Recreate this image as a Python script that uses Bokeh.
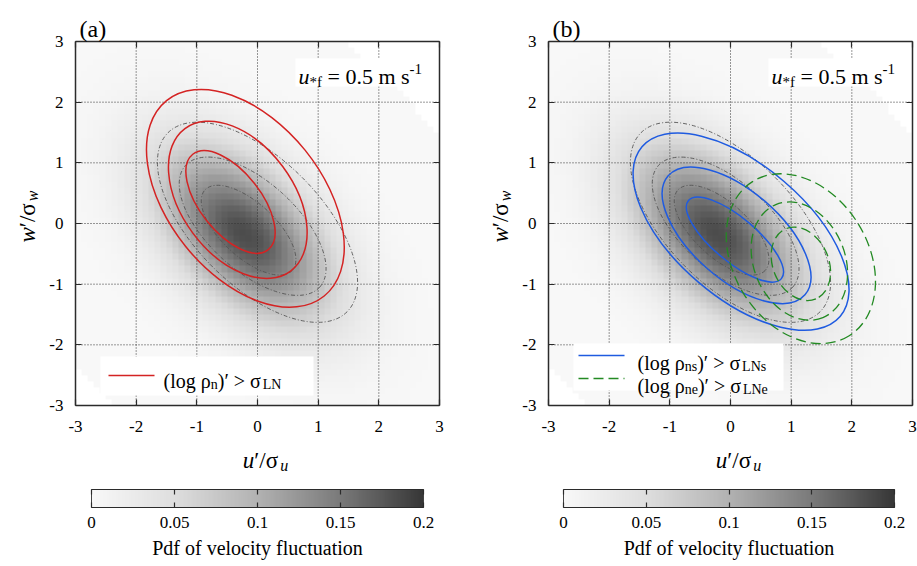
import numpy as np
from bokeh.plotting import figure
from bokeh.models import (ColumnDataSource, LinearColorMapper, FixedTicker, LinearAxis,
                          Label, BoxAnnotation, Arrow, Range1d, CustomJSTickFormatter)
from bokeh.layouts import row
from bokeh.embed import file_html
from bokeh.resources import INLINE

# ------------------------------------------------------------------ data
AXIS_TICKS = [-3, -2, -1, 0, 1, 2, 3]
AXIS_TICK_LABELS = ["-3", "-2", "-1", "0", "1", "2", "3"]
GRID_TICKS = [-2, -1, 0, 1, 2]
CBAR_TICKS = [0, 0.05, 0.1, 0.15, 0.2]
CBAR_TICK_LABELS = ["0", "0.05", "0.1", "0.15", "0.2"]

# joint pdf of (u'/sigma_u, w'/sigma_w), read from the grey shading
PDF_CELL = 0.1
PDF_MEAN_U = -0.22
PDF_MEAN_W = -0.18
PDF_SD_U = 1.0
PDF_SD_W = 1.0
PDF_CORR = -0.5
PDF_FLOOR = 1e-6

# grey palette
PAL_VALUES = [0.0, 0.05, 0.1, 0.15, 0.2]
PAL_GRAYS = [248, 222, 178, 122, 55]

# contours: centre (u, w), half extent in u and w, u-offset of the top point
GAUSS_CU = [0.0, -0.08, -0.147]
GAUSS_CW = [0.02, -0.045, -0.11]
GAUSS_EU = [1.65, 1.21, 0.78]
GAUSS_EW = [1.65, 1.14, 0.74]
GAUSS_TOP = [-0.99, -0.74, -0.51]

LN_CU = [-0.20, -0.325, -0.445]
LN_CW = [0.415, 0.39, 0.355]
LN_EU = [1.63, 1.143, 0.735]
LN_EW = [1.795, 1.296, 0.845]
LN_TOP = [-0.73, -0.475, -0.435]

LNS_CU = [0.174, 0.10, 0.073]
LNS_CW = [-0.135, -0.195, -0.265]
LNS_EU = [1.78, 1.225, 0.80]
LNS_EW = [1.625, 1.125, 0.70]
LNS_TOP = [-1.044, -0.748, -0.613]

LNE_CU = [1.16, 1.135, 1.16]
LNE_CW = [-0.58, -0.62, -0.665]
LNE_EU = [1.23, 0.795, 0.49]
LNE_EW = [1.40, 0.975, 0.605]
LNE_TOP = [-0.33, -0.165, -0.11]

# ------------------------------------------------------------------ layout / style
H = 566
BOX_TOP, BOX_SIZE = 41, 364          # data box, pixels from the top of the canvas
CB_TOP, CB_BOTTOM = 489, 507         # colour bar, pixels from the top
FONT = "Liberation Serif"
RED = "#d42323"
BLUE = "#1f5be0"
GREEN = "#238a23"
GREYLINE = "#555555"
FRAME = "#2b2b2b"
NB = "\u00a0"

W_REG = {" ": .25, NB: .25, "(": .333, ")": .333, "l": .278, "o": .5, "g": .5, "n": .5,
         "s": .389, "e": .444, "m": .778, ".": .25, "-": .333, "=": .564, ">": .564, "/": .278,
         "L": .611, "N": .722, "f": .333, "ρ": .5, "σ": .55, "′": .3, "*": .5,
         "a": .444, "b": .5}
W_IT = {"u": .5, "w": .667}


def text_width(s, size, style):
    tbl = W_IT if style == "italic" else W_REG
    return sum(tbl.get(c, 0.5) for c in s) * size


def rich(p, pieces, x0, ytop, vertical=False):
    """pieces: (text, size, style, baseline shift); x0/ytop in canvas pixels from top-left."""
    y0 = H - ytop
    d = 0.0
    for text, size, style, shift in pieces:
        if vertical:
            x, y, ang = x0 - shift, y0 + d, np.pi / 2
        else:
            x, y, ang = x0 + d, y0 + shift, 0
        p.add_layout(Label(x=x, y=y, x_units="screen", y_units="screen", text=text, angle=ang,
                           text_font=FONT, text_font_size=f"{size}px", text_font_style=style,
                           text_baseline="alphabetic", text_align="left", text_color="black"))
        d += text_width(text, size, style)


def pieces_width(pieces):
    return sum(text_width(t, s, st) for t, s, st, _ in pieces)


def screen_box(p, left, right, top, bottom):
    p.add_layout(BoxAnnotation(left=left, right=right, top=H - top, bottom=H - bottom,
                               left_units="screen", right_units="screen",
                               top_units="screen", bottom_units="screen",
                               fill_color="white", fill_alpha=1, line_alpha=0))


def screen_line(p, x0, x1, ytop, color, width, dash="solid"):
    p.add_layout(Arrow(end=None, x_start=x0, y_start=H - ytop, x_end=x1, y_end=H - ytop,
                       start_units="screen", end_units="screen", line_color=color,
                       line_width=width, line_dash=dash))


def ellipse_source(cu, cw, eu, ew, top):
    cu, cw, eu, ew, top = map(np.asarray, (cu, cw, eu, ew, top))
    sxx, syy, sxy = eu ** 2, ew ** 2, top * ew
    tr, det = sxx + syy, sxx * syy - sxy ** 2
    disc = np.sqrt((tr / 2) ** 2 - det)
    l1, l2 = tr / 2 + disc, tr / 2 - disc
    ang = 0.5 * np.arctan2(2 * sxy, sxx - syy)
    return ColumnDataSource(dict(x=cu, y=cw, w=2 * np.sqrt(l1), h=2 * np.sqrt(l2), a=ang))


# palette / mapper
levels = np.linspace(PAL_VALUES[0], PAL_VALUES[-1], 256)
grays = np.interp(levels, PAL_VALUES, PAL_GRAYS).round().astype(int)
PALETTE = ["#%02x%02x%02x" % (g, g, g) for g in grays]
mapper = LinearColorMapper(palette=PALETTE, low=CBAR_TICKS[0], high=CBAR_TICKS[-1],
                           nan_color="rgba(0,0,0,0)")

# pdf field
lo, hi = AXIS_TICKS[0], AXIS_TICKS[-1]
centres = np.arange(lo + PDF_CELL / 2, hi, PDF_CELL)
U, Wg = np.meshgrid(centres, centres)
zu = (U - PDF_MEAN_U) / PDF_SD_U
zw = (Wg - PDF_MEAN_W) / PDF_SD_W
q = (zu ** 2 - 2 * PDF_CORR * zu * zw + zw ** 2) / (1 - PDF_CORR ** 2)
PDF = np.exp(-q / 2) / (2 * np.pi * PDF_SD_U * PDF_SD_W * np.sqrt(1 - PDF_CORR ** 2))
PDF[PDF < PDF_FLOOR] = np.nan

TICK_FMT = {t: s for t, s in zip(AXIS_TICKS, AXIS_TICK_LABELS)}
CB_FMT = {t: s for t, s in zip(CBAR_TICKS, CBAR_TICK_LABELS)}


def axis(ticks, loc, labels, bounds, **kw):
    ax = LinearAxis(ticker=FixedTicker(ticks=ticks), fixed_location=loc, bounds=bounds,
                    major_tick_in=6, major_tick_out=0, minor_tick_line_color=None,
                    axis_line_color=FRAME, axis_line_width=1.5, major_tick_line_color=FRAME,
                    major_tick_line_width=1.2,
                    major_label_text_font=FONT, major_label_text_font_size="17px",
                    major_label_text_color="black", **kw)
    if labels is None:
        ax.formatter = CustomJSTickFormatter(code="return ''")
        ax.major_label_standoff = 0
    else:
        ax.major_label_overrides = labels
    return ax


def make_panel(width, box_left, cb_left, cb_right, tag):
    s = BOX_SIZE / (hi - lo)                       # pixels per unit
    box_bottom = BOX_TOP + BOX_SIZE
    xr = Range1d(lo - box_left / s, hi + (width - box_left - BOX_SIZE) / s)
    yr = Range1d(lo - (H - box_bottom) / s, hi + BOX_TOP / s)
    p = figure(width=width, height=H, x_range=xr, y_range=yr, title=None,
               output_backend="svg", toolbar_location=None,
               min_border=0, min_border_left=0, min_border_right=0,
               min_border_top=0, min_border_bottom=0)
    # colour-bar coordinate systems
    cs = (cb_right - cb_left) / (CBAR_TICKS[-1] - CBAR_TICKS[0])
    p.extra_x_ranges = {"cb": Range1d(CBAR_TICKS[0] - cb_left / cs,
                                      CBAR_TICKS[-1] + (width - cb_right) / cs)}
    ch = CB_BOTTOM - CB_TOP
    p.extra_y_ranges = {"cby": Range1d(-(H - CB_BOTTOM) / ch, 1 + CB_TOP / ch)}

    p.grid.visible = False
    p.outline_line_color = None
    p.background_fill_color = "white"
    p.border_fill_color = "white"

    p.image(image=[PDF], x=lo, y=lo, dw=hi - lo, dh=hi - lo, color_mapper=mapper, level="image")
    # dotted grid
    p.segment(x0=GRID_TICKS, y0=[lo] * len(GRID_TICKS), x1=GRID_TICKS, y1=[hi] * len(GRID_TICKS),
              line_color="#333333", line_dash="1 2", line_width=1, level="underlay")
    p.segment(x0=[lo] * len(GRID_TICKS), y0=GRID_TICKS, x1=[hi] * len(GRID_TICKS), y1=GRID_TICKS,
              line_color="#333333", line_dash="1 2", line_width=1, level="underlay")

    # axes drawn on the data box
    xb = axis(AXIS_TICKS, lo, TICK_FMT, (lo, hi), major_label_standoff=15)
    yl = axis(AXIS_TICKS, lo, TICK_FMT, (lo, hi), major_label_standoff=12)
    xt = axis(AXIS_TICKS, hi, None, (lo, hi))
    yrgt = axis(AXIS_TICKS, hi, None, (lo, hi))
    p.xaxis.visible = False
    p.yaxis.visible = False
    p.add_layout(xb, "below")
    p.add_layout(yl, "left")
    p.add_layout(xt, "above")
    p.add_layout(yrgt, "right")

    p.ellipse(x="x", y="y", width="w", height="h", angle="a",
              source=ellipse_source(GAUSS_CU, GAUSS_CW, GAUSS_EU, GAUSS_EW, GAUSS_TOP),
              fill_color=None, line_color=GREYLINE, line_width=0.9, line_dash="4 2 1 2")

    # colour bar
    grad = np.linspace(CBAR_TICKS[0], CBAR_TICKS[-1], 256)[None, :]
    p.image(image=[grad], x=CBAR_TICKS[0], y=0, dw=CBAR_TICKS[-1] - CBAR_TICKS[0], dh=1,
            color_mapper=mapper, x_range_name="cb", y_range_name="cby")
    p.quad(left=[CBAR_TICKS[0]], right=[CBAR_TICKS[-1]], bottom=[0], top=[1],
           fill_color=None, line_color="#444444", line_width=1,
           x_range_name="cb", y_range_name="cby")
    cbb = axis(CBAR_TICKS, 0, CB_FMT, (CBAR_TICKS[0], CBAR_TICKS[-1]), major_label_standoff=9,
               x_range_name="cb", y_range_name="cby")
    cbb.major_tick_in = 5
    cbb.axis_line_width = 1
    cbb.axis_label = "Pdf of velocity fluctuation"
    cbb.axis_label_text_font = FONT
    cbb.axis_label_text_font_size = "20px"
    cbb.axis_label_text_font_style = "normal"
    cbb.axis_label_text_color = "black"
    cbb.axis_label_standoff = 6
    cbt = axis(CBAR_TICKS, 1, None, (CBAR_TICKS[0], CBAR_TICKS[-1]),
               x_range_name="cb", y_range_name="cby")
    cbt.major_tick_in = 5
    cbt.axis_line_width = 1
    p.add_layout(cbb, "below")
    p.add_layout(cbt, "above")

    # panel tag
    rich(p, [(tag, 24, "normal", 0)], box_left + 4, 28)
    # annotation with white background
    screen_box(p, box_left + 220, box_left + 357, 58, 86)
    rich(p, [("u", 22, "italic", 0), ("*f", 15, "normal", -5),
             (NB + "=" + NB + "0.5 m s", 22, "normal", 0), ("-1", 15, "normal", 8)],
         box_left + 223, 76)
    # axis labels
    xl = [("u", 23, "italic", 0), ("′/σ", 23, "normal", 0), ("u", 16, "italic", -5)]
    rich(p, xl, box_left + 190 - pieces_width(xl) / 2, 460)
    ylab = [("w", 23, "italic", 0), ("′/σ", 23, "normal", 0), ("w", 16, "italic", -5)]
    rich(p, ylab, box_left - 48, 216 + pieces_width(ylab) / 2, vertical=True)
    return p


# ---------------- panel (a)
pa = make_panel(458, 75, 91, 423, "(a)")
pa.ellipse(x="x", y="y", width="w", height="h", angle="a",
           source=ellipse_source(LN_CU, LN_CW, LN_EU, LN_EW, LN_TOP),
           fill_color=None, line_color=RED, line_width=1.5)
screen_box(pa, 100, 313, 356, 395)
screen_line(pa, 108, 154, 375, RED, 1.5)
rich(pa, [("(log ρ", 20, "normal", 0), ("n", 14, "normal", -4),
          (")′ > σ", 20, "normal", 0), ("LN", 14, "normal", -4)], 163, 380)

# ---------------- panel (b)
pb = make_panel(459, 90, 105, 436, "(b)")
pb.ellipse(x="x", y="y", width="w", height="h", angle="a",
           source=ellipse_source(LNS_CU, LNS_CW, LNS_EU, LNS_EW, LNS_TOP),
           fill_color=None, line_color=BLUE, line_width=1.5)
pb.ellipse(x="x", y="y", width="w", height="h", angle="a",
           source=ellipse_source(LNE_CU, LNE_CW, LNE_EU, LNE_EW, LNE_TOP),
           fill_color=None, line_color=GREEN, line_width=1.3, line_dash="10 5")
screen_box(pb, 115, 325, 343, 390)
screen_line(pb, 120, 166, 355, BLUE, 1.5)
screen_line(pb, 120, 166, 378, GREEN, 1.3, "10 5")
rich(pb, [("(log ρ", 20, "normal", 0), ("ns", 14, "normal", -4),
          (")′ > σ", 20, "normal", 0), ("LNs", 14, "normal", -4)], 179, 362)
rich(pb, [("(log ρ", 20, "normal", 0), ("ne", 14, "normal", -4),
          (")′ > σ", 20, "normal", 0), ("LNe", 14, "normal", -4)], 179, 385)

layout = row(pa, pb)
open("out.html", "w").write(file_html(layout, INLINE))
